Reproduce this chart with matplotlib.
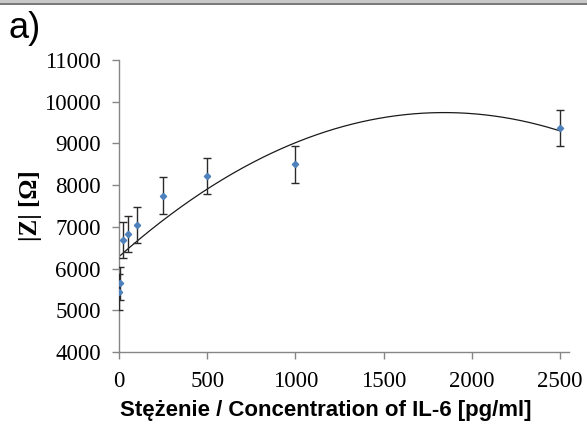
import numpy as np
import matplotlib
matplotlib.use("Agg")
import matplotlib.pyplot as plt
from matplotlib.patches import Rectangle

# concentration of IL-6 [pg/ml] and measured |Z| [Ohm]
conc = [1, 5, 25, 50, 100, 250, 500, 1000, 2500]
impedance = [5446, 5647, 6686, 6830, 7045, 7750, 8210, 8495, 9364]
err = [430, 400, 430, 430, 440, 440, 430, 440, 430]

xticks = [0, 500, 1000, 1500, 2000, 2500]
yticks = [4000, 5000, 6000, 7000, 8000, 9000, 10000, 11000]

fig = plt.figure(figsize=(5.87, 4.25), dpi=100)
ax = fig.add_axes([0.2027, 0.1718, 0.7666, 0.687])

# quadratic trendline, as in the original spreadsheet
coef = np.polyfit(conc, impedance, 2)
xs = np.linspace(0, 2500, 300)
ax.plot(xs, np.polyval(coef, xs), color="#1a1a1a", lw=0.9)

ax.errorbar(conc, impedance, yerr=err, fmt="D", color="#4f81bd", ms=3.2,
            ecolor="#2a2a2a", elinewidth=1.0, capsize=3, capthick=1.0, zorder=3)

ax.set_xlim(0, 2550)
ax.set_ylim(4000, 11000)
ax.set_xticks(xticks)
ax.set_yticks(yticks)

for s in ["top", "right"]:
    ax.spines[s].set_visible(False)
for s in ["left", "bottom"]:
    ax.spines[s].set_color("#868686")
    ax.spines[s].set_linewidth(1.0)
ax.tick_params(direction="out", length=5, width=1.0, color="#868686",
               labelsize=16.5, pad=8)
ax.tick_params(axis="x", pad=9)
for lab in ax.get_xticklabels() + ax.get_yticklabels():
    lab.set_family("Liberation Serif")

ax.set_xlabel("Stężenie / Concentration of IL-6 [pg/ml]", family="Liberation Sans",
              fontweight="bold", fontsize=16, va="top")
ax.xaxis.set_label_coords(0.46, -0.165)
ax.set_ylabel("|Z| [Ω]", family="Liberation Serif", fontweight="bold",
              fontsize=18)
ax.yaxis.set_label_coords(-0.17, 0.5)

fig.text(0.015, 0.975, "a)", family="Liberation Sans", fontsize=26, va="top")

# grey frame strip along the top edge
fig.patches.append(Rectangle((0, 0.993), 1, 0.007, transform=fig.transFigure,
                             facecolor="#c8c8c8", edgecolor="none"))
fig.patches.append(Rectangle((0, 0.989), 1, 0.004, transform=fig.transFigure,
                             facecolor="#7a7a7a", edgecolor="none"))

fig.savefig("out.png", dpi=100)
